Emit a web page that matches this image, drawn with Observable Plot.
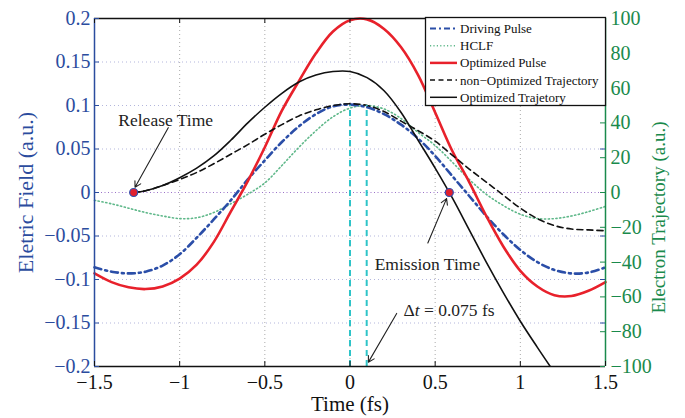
<!DOCTYPE html>
<html><head><meta charset="utf-8">
<script src="https://cdn.jsdelivr.net/npm/d3@7"></script>
<script src="https://cdn.jsdelivr.net/npm/@observablehq/plot@0.6"></script>
<style>body{margin:0;background:#fff}#chart{width:685px;height:418px}</style>
</head><body><div id="chart"></div>
<script>
// ---- data ----
const time = [-1.5,-1.4,-1.3,-1.2,-1.1,-1.0,-0.9,-0.8,-0.7,-0.6,-0.5,-0.4,-0.3,-0.2,-0.1,0,0.1,0.2,0.3,0.4,0.5,0.6,0.7,0.8,0.9,1.0,1.1,1.2,1.3,1.4,1.5];
const drivingPulse = [-0.086,-0.091,-0.093,-0.091,-0.084,-0.071,-0.052,-0.031,-0.009,0.015,0.037,0.058,0.076,0.090,0.099,0.101,0.098,0.090,0.078,0.062,0.042,0.019,-0.004,-0.027,-0.048,-0.066,-0.080,-0.089,-0.093,-0.092,-0.086];
const hclf = [-0.009,-0.013,-0.018,-0.023,-0.027,-0.030,-0.029,-0.023,-0.013,-0.002,0.011,0.031,0.052,0.071,0.087,0.097,0.100,0.096,0.085,0.069,0.054,0.035,0.015,-0.002,-0.015,-0.025,-0.030,-0.030,-0.027,-0.022,-0.016];
const optimizedPulse = [-0.093,-0.103,-0.109,-0.111,-0.108,-0.099,-0.083,-0.057,-0.022,0.013,0.052,0.094,0.128,0.160,0.185,0.198,0.199,0.188,0.167,0.135,0.092,0.048,0.012,-0.027,-0.062,-0.090,-0.108,-0.118,-0.119,-0.113,-0.103];

// trajectories, in right-axis units (Electron Trajectory, a.u.)
const optTrajTime = [-1.27,-1.2,-1.1,-1.0,-0.9,-0.8,-0.7,-0.6,-0.5,-0.4,-0.3,-0.2,-0.1,0,0.1,0.2,0.3,0.4,0.5,0.6,0.7,0.8,0.9,1.0,1.1,1.2];
const optimizedTrajectory = [0,1,4,8.5,14,21,30,40,49,57,63.5,67.5,69.5,69.5,66,58.5,46,30,14,-3,-21.5,-40,-57.5,-74,-89,-103.5];
const nonOptTrajTime = [-1.27,-1.2,-1.1,-1.0,-0.9,-0.8,-0.7,-0.6,-0.5,-0.4,-0.3,-0.2,-0.1,0,0.1,0.2,0.3,0.4,0.5,0.6,0.7,0.8,0.9,1.0,1.1,1.2,1.3,1.4,1.5];
const nonOptimizedTrajectory = [0,1,4,7.5,11.5,16.5,22,27.5,33.5,39,44,47.5,50,51,50,46.5,41,35.5,29.5,21.5,13.5,6,-1.5,-9,-15,-19,-21,-21.5,-22];

const xTicks = [-1.5,-1,-0.5,0,0.5,1,1.5];
const yTicks = [-0.2,-0.15,-0.1,-0.05,0,0.05,0.1,0.15,0.2];
const rightTicks = [-100,-80,-60,-40,-20,0,20,40,60,80,100];
const rightPerLeft = 500; // 100 (right) <-> 0.2 (left)

const events = [{t:-1.27, v:0, name:"Release"}, {t:0.583, v:0, name:"Emission"}];
const deltaLines = [{t:0, top:0.1, bottom:-0.2}, {t:0.098, top:0.1, bottom:-0.2}];
const notes = [
  {t:-1.082, v:0.083, text:"Release Time"},
  {t:0.4545, v:-0.0824, text:"Emission Time"},
  {t:0.581, v:-0.135, text:"Δt = 0.075 fs"}
];
const arrows = [
  {t1:-1.067, v1:0.0745, t2:-1.262, v2:0.006},
  {t1:0.457, v1:-0.058, t2:0.567, v2:-0.007},
  {t1:0.274, v1:-0.139, t2:0.108, v2:-0.195}
];
const legendItems = [
  {label:"Driving Pulse", color:"#2b4ea8", width:2, dash:"6,3,2,3"},
  {label:"HCLF", color:"#5fb88a", width:1.5, dash:"1.2,2.2"},
  {label:"Optimized Pulse", color:"#e8212b", width:2.5, dash:null},
  {label:"non\u2212Optimized Trajectory", color:"#111", width:1.5, dash:"5,3.5"},
  {label:"Optimized Trajetory", color:"#111", width:1.5, dash:null}
];

// ---- styles ----
const BLUE = "#2b4c9e", GREEN = "#1a8a4c", RED = "#e8212b";
const FONT = "'Liberation Serif', 'Times New Roman', serif";
const fmt = d3.format("~g");
const field = vals => time.map((t, i) => ({t, v: vals[i]}));
const traj = (ts, vs) => ts.map((t, i) => ({t, v: vs[i] / rightPerLeft}));
const W = 685, H = 418, mL = 94, mR = 80, mT = 18, mB = 52;
const fw = W - mL - mR, fh = H - mT - mB, tk = 5;
const xDomain = [xTicks[0], xTicks[xTicks.length - 1]];
const yDomain = [yTicks[0], yTicks[yTicks.length - 1]];

const plot = Plot.plot({
  width: W, height: H, marginLeft: mL, marginRight: mR, marginTop: mT, marginBottom: mB,
  style: {fontFamily: FONT, fontSize: "20px", background: "white"},
  x: {domain: xDomain, label: null},
  y: {domain: yDomain, label: null},
  marks: [
    Plot.gridY(yTicks.filter(d => d !== 0 && Math.abs(d) !== 0.2), {stroke: "#b3b6dc", strokeOpacity: 1, strokeDasharray: "1,3"}),
    Plot.gridX(xTicks.filter(d => Math.abs(d) !== 1.5), {stroke: "#aaaaaa", strokeOpacity: 1, strokeDasharray: "1,3"}),
    Plot.ruleY([0], {stroke: "#9b72c8", strokeDasharray: "1,2.5", strokeWidth: 1}),
    Plot.line(field(hclf), {x: "t", y: "v", stroke: "#5fb88a", strokeWidth: 1.6, strokeDasharray: "1.2,2.6", curve: "catmull-rom"}),
    Plot.line(field(drivingPulse), {x: "t", y: "v", stroke: "#2b4ea8", strokeWidth: 2.6, strokeDasharray: "7,4,2,4", curve: "catmull-rom"}),
    Plot.line(field(optimizedPulse), {x: "t", y: "v", stroke: RED, strokeWidth: 2.6, curve: "catmull-rom"}),
    Plot.line(traj(nonOptTrajTime, nonOptimizedTrajectory), {x: "t", y: "v", stroke: "#111", strokeWidth: 1.6, strokeDasharray: "6,4", curve: "catmull-rom"}),
    Plot.line(traj(optTrajTime, optimizedTrajectory), {x: "t", y: "v", stroke: "#111", strokeWidth: 1.6, curve: "catmull-rom", clip: true}),
    Plot.ruleX(deltaLines, {x: "t", y1: "bottom", y2: "top", stroke: "#2ec4c8", strokeWidth: 2, strokeDasharray: "6,4"}),
    Plot.dot(events, {x: "t", y: "v", r: 4, fill: "#e0202e", stroke: "#3050b0", strokeWidth: 1.2}),
    Plot.arrow(arrows, {x1: "t1", y1: "v1", x2: "t2", y2: "v2", stroke: "#222", strokeWidth: 1.1, headLength: 9}),
    Plot.text(notes, {x: "t", y: "v", text: "text", fill: "#222", fontSize: 17.5}),
    // frame
    Plot.ruleY([yDomain[0], yDomain[1]], {stroke: "#111", strokeWidth: 1.3}),
    Plot.ruleX([xDomain[0]], {stroke: BLUE, strokeWidth: 1.5}),
    Plot.ruleX([xDomain[1]], {stroke: GREEN, strokeWidth: 1.5}),
    // inward ticks
    Plot.ruleX(xTicks, {stroke: "#111", insetTop: fh - tk}),
    Plot.ruleX(xTicks, {stroke: "#111", insetBottom: fh - tk}),
    Plot.ruleY(yTicks, {stroke: BLUE, insetRight: fw - tk}),
    Plot.ruleY(yTicks, {stroke: BLUE, insetLeft: fw - tk}),
    Plot.ruleY(rightTicks.map(d => d / rightPerLeft), {stroke: GREEN, insetLeft: fw - tk}),
    // axes
    Plot.axisX(xTicks, {tickSize: 0, tickPadding: 8, tickFormat: fmt, fill: "#111", fontSize: 20}),
    Plot.axisY(yTicks, {anchor: "left", tickSize: 0, tickPadding: 4, tickFormat: fmt, fill: BLUE, fontSize: 20}),
    Plot.axisY(rightTicks.map(d => d / rightPerLeft), {anchor: "right", tickSize: 0, tickPadding: 5, tickFormat: d => fmt(Math.round(d * rightPerLeft)), fill: GREEN, fontSize: 20}),
    Plot.text(["Eletric Field (a.u.)"], {frameAnchor: "left", textAnchor: "middle", dx: -69, rotate: -90, fill: BLUE, fontSize: 22}),
    Plot.text(["Electron Trajectory (a.u.)"], {frameAnchor: "right", textAnchor: "middle", dx: 53, dy: 25, rotate: -90, fill: GREEN, fontSize: 19}),
    Plot.text(["Time (fs)"], {frameAnchor: "bottom", textAnchor: "middle", dy: 44, fill: "#111", fontSize: 21})
  ]
});

// italic t in the Δt label
d3.select(plot).selectAll("text").filter(function () { return this.textContent === "Δt = 0.075 fs"; })
  .html('Δ<tspan font-style="italic">t</tspan> = 0.075 fs');

// legend box (MATLAB style, top right inside the axes)
const lg = d3.select(plot).append("g").attr("font-family", FONT).attr("font-size", 13).attr("text-anchor", "start");
lg.append("rect").attr("x", 425.5).attr("y", 17.5).attr("width", 180).attr("height", 88)
  .attr("fill", "white").attr("stroke", "#111").attr("stroke-width", 1.3);
legendItems.forEach((it, i) => {
  const y = 28.5 + i * 17.2;
  lg.append("line").attr("x1", 430).attr("x2", 457).attr("y1", y).attr("y2", y)
    .attr("stroke", it.color).attr("stroke-width", it.width).attr("stroke-dasharray", it.dash);
  lg.append("text").attr("x", 460).attr("y", y).attr("dy", "0.34em").attr("fill", "#111")
    .attr("text-anchor", "start").text(it.label);
});

document.getElementById("chart").appendChild(plot);
</script>
</body></html>
